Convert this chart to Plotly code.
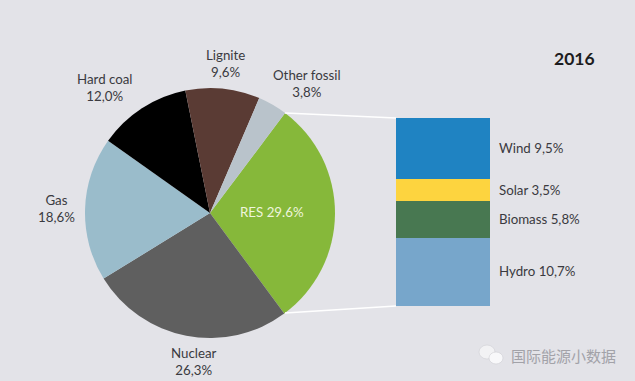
import math
import plotly.graph_objects as go

W, H = 635, 381

# Data
pie_labels = ["RES", "Nuclear", "Gas", "Hard coal", "Lignite", "Other fossil"]
pie_values = [29.6, 26.3, 18.6, 12.0, 9.6, 3.8]
pie_colors = ["#86b83a", "#5f5f5f", "#9abccb", "#000000", "#5a3b34", "#b9c3cb"]
res_labels = ["Hydro", "Biomass", "Solar", "Wind"]
res_values = [10.7, 5.8, 3.5, 9.5]
res_colors = ["#77a6cb", "#487851", "#fdd43f", "#1f83c2"]
title = "2016"
watermark = "国际能源小数据"

BG = "#e3e3e8"
TXT = "#3a3a40"
FONT = "Lato"

def px(x): return x / W
def py(y): return 1 - y / H

fig = go.Figure()
fig.add_trace(go.Pie(
    labels=pie_labels, values=pie_values, sort=False, direction="clockwise",
    rotation=36.9, textinfo="none", hoverinfo="label+percent", showlegend=False,
    marker=dict(colors=pie_colors, line=dict(width=0)),
    domain=dict(x=[px(85), px(335)], y=[py(338), py(88)]),
))
for name, val, col in zip(res_labels, res_values, res_colors):
    fig.add_trace(go.Bar(x=[0], y=[val], name=name, marker=dict(color=col, line=dict(width=0)),
                         width=1, showlegend=False, hoverinfo="name+y"))

fig.update_layout(
    width=W, height=H, margin=dict(l=0, r=0, t=0, b=0),
    paper_bgcolor=BG, plot_bgcolor=BG, barmode="stack", bargap=0,
    font=dict(family=FONT, size=12, color=TXT),
    xaxis=dict(domain=[px(396), px(490)], range=[-0.5, 0.5], visible=False, fixedrange=True),
    yaxis=dict(domain=[py(306), py(118)], range=[0, sum(res_values)], visible=False, fixedrange=True),
)

def note(x, y, text, size=13.3, color=TXT, align="center", anchor="center", bold=False, family=FONT):
    fig.add_annotation(x=px(x), y=py(y), xref="paper", yref="paper", text=f"<b>{text}</b>" if bold else text,
                       showarrow=False, align=align, xanchor=anchor, yanchor="middle",
                       font=dict(size=size, color=color, family=family))

def br(a, b): return f"{a}<br>{b}"
note(225, 63, br("Lignite", "9,6%"))
note(105, 87, br("Hard coal", "12,0%"))
note(307, 83, br("Other fossil", "3,8%"))
note(56, 208, br("Gas", "18,6%"))
note(194, 361, br("Nuclear", "26,3%"))
note(272, 212, "RES 29.6%", color="#eef5dc")
note(497, 148, "Wind 9,5%", anchor="left")
note(497, 190, "Solar 3,5%", anchor="left")
note(497, 219, "Biomass 5,8%", anchor="left")
note(497, 271, "Hydro 10,7%", anchor="left")
note(574, 58, title, size=17.5, bold=True, color="#1c1c20")
note(509, 355, watermark, size=15, color="#a2a2a8", anchor="left", family="Noto Sans CJK SC")

# Connectors from the RES wedge edges to the stacked bar
for y0, y1 in [(113, 118), (313, 306)]:
    fig.add_shape(type="line", xref="paper", yref="paper", x0=px(285), y0=py(y0), x1=px(396), y1=py(y1),
                  line=dict(color="white", width=1.5))

# WeChat-style mark of the watermark
for cx, cy, rx, ry, col in [(487, 352, 8, 7, "#f2f2f4"), (496, 358, 7, 6, "#f8f8fa")]:
    fig.add_shape(type="circle", xref="paper", yref="paper", x0=px(cx - rx), x1=px(cx + rx),
                  y0=py(cy + ry), y1=py(cy - ry), fillcolor=col, line=dict(color="#cfcfd4", width=0.6))

fig.write_html("out.html", config={"displayModeBar": False},
               post_script="document.body.style.margin='0';document.body.style.overflow='hidden';")
